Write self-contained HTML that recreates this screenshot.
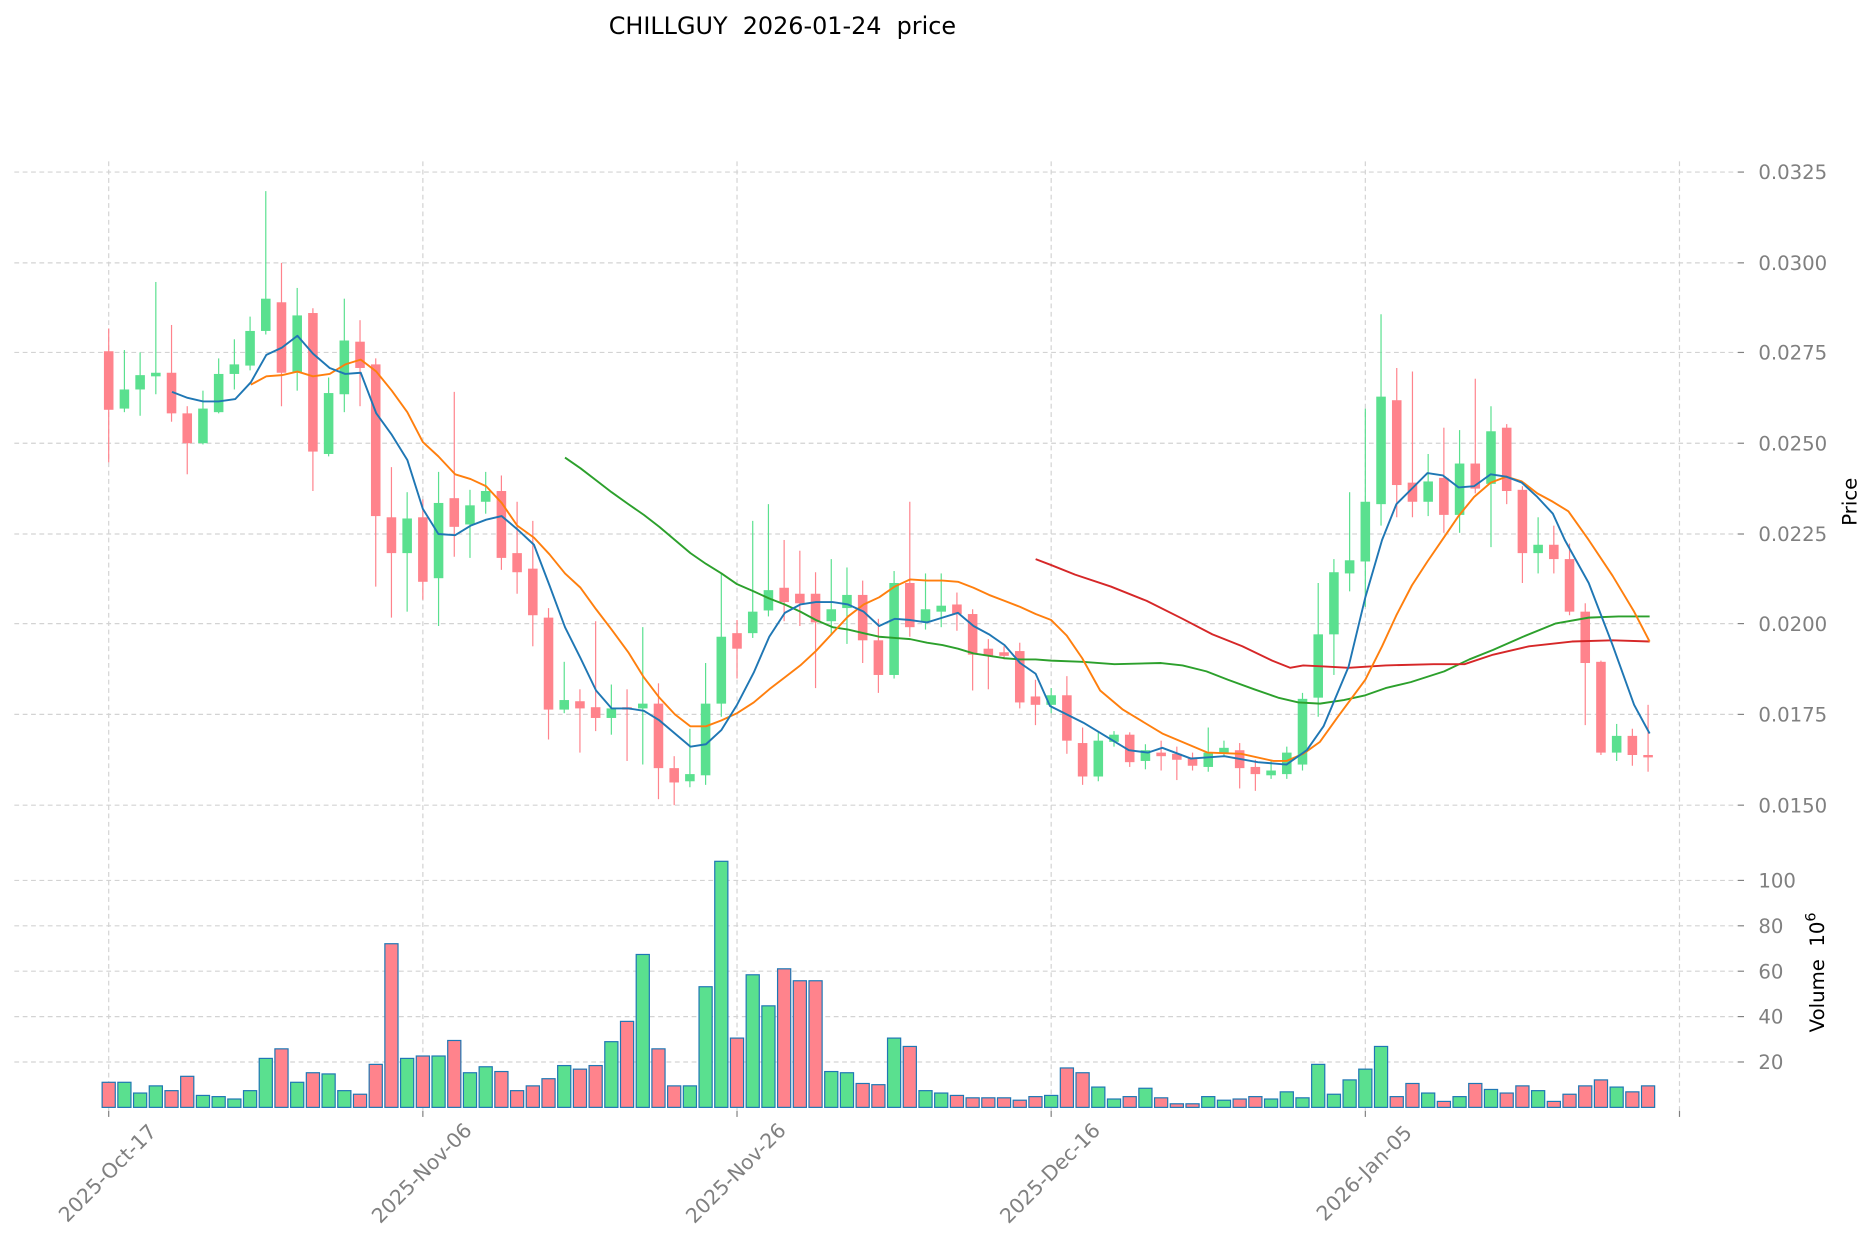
<!DOCTYPE html>
<html><head><meta charset="utf-8"><style>
html,body{margin:0;padding:0;background:#fff;}
svg{display:block;}
text{font-family:"DejaVu Sans","Liberation Sans",sans-serif;}
</style></head><body>
<svg id="s" width="1873" height="1246" viewBox="0 0 1568 1043" xmlns="http://www.w3.org/2000/svg">
<rect width="1568" height="1043" fill="#fff"/>
<g id="grid" stroke="#d3d3d3" stroke-width="1" stroke-dasharray="4,3" fill="none"></g>
<g id="vol"></g>
<g id="cdl"></g>
<g id="ma" fill="none" stroke-width="1.6" stroke-linejoin="round"></g>
<g fill="#808080" font-size="16.5">
<text x="1472" y="150">0.0325</text>
<text x="1472" y="226">0.0300</text>
<text x="1472" y="301">0.0275</text>
<text x="1472" y="377">0.0250</text>
<text x="1472" y="453">0.0225</text>
<text x="1472" y="528">0.0200</text>
<text x="1472" y="604">0.0175</text>
<text x="1472" y="680">0.0150</text>
<text x="1472" y="743">100</text>
<text x="1472" y="781">80</text>
<text x="1472" y="819">60</text>
<text x="1472" y="857">40</text>
<text x="1472" y="895">20</text>
</g>
<g fill="#808080" font-size="17" text-anchor="middle" dominant-baseline="central">
<text transform="translate(90,982) rotate(-45)">2025-Oct-17</text>
<text transform="translate(353,982) rotate(-45)">2025-Nov-06</text>
<text transform="translate(616,982) rotate(-45)">2025-Nov-26</text>
<text transform="translate(879,982) rotate(-45)">2025-Dec-16</text>
<text transform="translate(1142,982) rotate(-45)">2026-Jan-05</text>
</g>
<text x="655" y="28.5" font-size="20" text-anchor="middle" fill="#000" xml:space="preserve" style="white-space:pre">CHILLGUY  2026-01-24  price</text>
<text transform="translate(1554,420) rotate(-90)" font-size="16.5" text-anchor="middle" fill="#000">Price</text>
<text transform="translate(1527,814) rotate(-90)" font-size="16.5" text-anchor="middle" fill="#000" xml:space="preserve" style="white-space:pre">Volume  10<tspan dy="-7" font-size="12">6</tspan></text>
</svg>
<script>
var NS="http://www.w3.org/2000/svg";
function el(p,t,a){var e=document.createElementNS(NS,t);for(var k in a)e.setAttribute(k,a[k]);p.appendChild(e);return e;}
var g=document.getElementById('grid');
[144,220,295,371,447,522,598,674,737,775,813,851,889].forEach(function(y){
 el(g,'line',{x1:12,x2:1455,y1:y,y2:y});
 el(document.getElementById('s'),'line',{x1:1455,x2:1460,y1:y,y2:y,stroke:'#808080','stroke-width':1});
});
for(var k=0;k<6;k++){var x=91+263*k;el(g,'line',{x1:x,x2:x,y1:135,y2:930});
 el(document.getElementById('s'),'line',{x1:x,x2:x,y1:930,y2:935,stroke:'#808080','stroke-width':1});}
var D=[
['r',294,343,275,387,906],['g',326,342,293,345,906],['g',314,326,295,348,915],['g',312,315,236,330,909],['r',312,346,272,353,913],
['r',346,371,340,397,901],['g',342,371,327,372,917],['g',313,345,300,346,918],['g',305,313,284,326,920],['g',277,306,265,310,913],
['g',250,277,160,280,886],['r',253,312,220,340,878],['g',264,312,241,327,906],['r',262,378,258,411,898],['g',329,380,316,382,899],
['g',285,330,250,345,913],['r',286,308,268,340,916],['r',305,432,300,491,891],['r',433,463,391,517,790],['g',434,463,412,512,886],
['r',433,487,418,502,884],['g',421,484,395,524,884],['r',417,441,328,466,871],['g',423,439,410,467,898],['g',411,420,395,430,893],
['r',411,467,398,477,897],['r',463,479,420,497,913],['r',476,515,436,541,909],['r',517,594,509,619,903],['g',586,594,554,597,892],
['r',587,593,577,630,895],['r',592,601,520,612,892],['g',593,601,573,615,872],['r',592,594,577,637,855],['g',589,593,525,640,799],
['r',589,643,572,669,878],['r',643,655,633,674,909],['g',648,654,610,659,909],['g',589,649,555,657,826],['g',533,589,480,600,721],
['r',530,543,519,568,869],['g',512,530,436,534,816],['g',494,511,422,516,842],['r',492,504,452,520,811],['r',497,505,461,524,821],
['r',497,521,479,576,821],['g',510,520,468,531,897],['g',498,509,475,539,898],['r',498,536,486,555,907],['r',536,565,518,580,908],
['g',488,565,478,568,869],['r',488,525,420,533,876],['g',510,521,480,527,913],['g',507,512,480,525,915],['r',506,514,496,528,917],
['r',514,548,510,578,919],['r',543,549,535,577,919],['r',546,549,541,552,919],['r',545,588,538,593,921],['r',583,590,569,607,918],
['g',582,590,576,597,917],['r',582,620,566,631,894],['r',622,650,609,657,898],['g',620,650,612,654,910],['g',615,621,612,625,920],
['r',615,638,613,642,918],['g',628,637,623,644,911],['r',630,633,620,645,919],['r',631,636,625,653,924],['r',634,641,630,645,924],
['g',630,642,609,646,918],['g',626,630,620,633,921],['r',628,643,622,660,920],['r',642,648,636,662,918],['g',645,649,636,652,920],
['g',630,648,625,652,914],['g',585,640,580,645,919],['g',531,584,488,600,891],['g',479,531,468,565,916],['g',469,480,412,495,904],
['g',420,470,342,508,895],['g',332,422,263,440,876],['r',335,406,308,433,918],['r',404,420,311,433,907],['g',403,420,380,432,915],
['r',400,431,358,446,922],['g',388,431,360,446,918],['r',388,409,317,413,907],['g',361,405,340,458,912],['r',358,411,355,422,915],
['r',410,463,407,488,909],['g',456,463,433,480,913],['r',456,468,440,480,922],['r',468,512,455,515,916],['r',512,555,505,607,909],
['r',554,630,553,632,904],['g',616,630,606,637,910],['r',616,632,610,641,914],['r',632,634,590,646,909]
];
var GC='#5ae08f',RC='#ff838c';
var V=document.getElementById('vol'),C=document.getElementById('cdl');
D.forEach(function(d,i){
 var x=91+13.15*i,c=d[0]=='g'?GC:RC;
 el(V,'rect',{x:x-5.5,y:d[5],width:11,height:927-d[5],fill:c,stroke:'#1f77b4','stroke-width':1});
 el(C,'line',{x1:x,x2:x,y1:d[3],y2:d[4],stroke:c,'stroke-width':1});
 el(C,'rect',{x:x-4,y:d[1],width:8,height:Math.max(1.5,d[2]-d[1]),fill:c});
});
var M=document.getElementById('ma');
function pl(col,pts){el(M,'polyline',{stroke:col,points:pts.map(function(p){return p.join(',')}).join(' ')});}
pl('#2ca02c',[[473,383],[486,392],[499,402],[512,412],[526,422],[539,431],[552,441],[565,452],[578,463],[591,472],[604,480],[617,489],[631,495],[644,501],[657,506],[670,512],[683,519],[697,525],[710,527],[723,530],[736,533],[749,534],[762,535],[776,538],[789,540],[802,543],[815,547],[828,549],[841,551],[854,552],[867,552],[880,553],[906,554],[933,556],[972,555],[990,557],[1010,562],[1028,569],[1050,577],[1070,584],[1087,588],[1105,589],[1125,586],[1143,582],[1160,576],[1181,571],[1209,562],[1230,552],[1250,544],[1275,533],[1302,522],[1330,517],[1355,516],[1381,516]]);
pl('#d62728',[[867,468],[880,473],[900,481],[930,491],[960,503],[990,518],[1015,531],[1040,541],[1065,553],[1080,559],[1091,557],[1110,558],[1129,559],[1160,557],[1200,556],[1226,556],[1250,548],[1280,541],[1316,537],[1350,536],[1381,537]]);
pl('#ff7f0e',[[210,322],[223,315],[236,314],[249,311],[262,315],[276,313],[289,305],[302,301],[315,311],[328,327],[341,345],[354,370],[367,382],[381,397],[394,401],[407,407],[420,421],[433,440],[447,450],[460,464],[473,480],[486,492],[499,510],[512,527],[526,546],[539,567],[552,584],[565,598],[578,608],[591,608],[604,603],[617,597],[631,588],[644,577],[657,567],[670,557],[683,545],[697,530],[710,516],[723,506],[736,500],[749,491],[762,485],[776,486],[789,486],[802,487],[815,492],[828,498],[841,503],[854,508],[867,514],[880,519],[893,532],[906,551],[921,578],[940,594],[973,614],[1011,630],[1039,631],[1066,637],[1077,637],[1091,631],[1105,621],[1120,600],[1143,569],[1157,541],[1169,515],[1182,490],[1195,470],[1208,451],[1221,432],[1234,416],[1248,404],[1261,399],[1274,403],[1287,413],[1300,420],[1313,428],[1330,452],[1350,482],[1368,512],[1381,537]]);
pl('#1f77b4',[[144,328],[157,333],[170,336],[183,336],[197,334],[210,320],[223,297],[236,291],[249,281],[262,296],[276,308],[289,313],[302,312],[315,346],[328,364],[341,385],[354,426],[367,447],[381,448],[394,440],[407,435],[420,432],[433,443],[447,456],[460,490],[473,525],[486,551],[499,578],[512,593],[526,593],[539,595],[552,603],[565,614],[578,625],[591,623],[604,611],[617,590],[631,563],[644,533],[657,513],[670,506],[683,504],[697,504],[710,506],[723,512],[736,524],[749,518],[762,519],[776,521],[789,517],[802,513],[815,524],[828,531],[841,540],[854,555],[867,564],[879,591],[907,605],[945,628],[961,630],[973,626],[997,635],[1025,633],[1053,638],[1077,640],[1094,628],[1108,608],[1129,558],[1143,500],[1157,452],[1169,422],[1182,409],[1195,396],[1208,398],[1221,408],[1234,407],[1248,397],[1261,399],[1274,404],[1287,416],[1300,430],[1310,452],[1330,488],[1350,540],[1368,590],[1381,614]]);
</script>
</body></html>
